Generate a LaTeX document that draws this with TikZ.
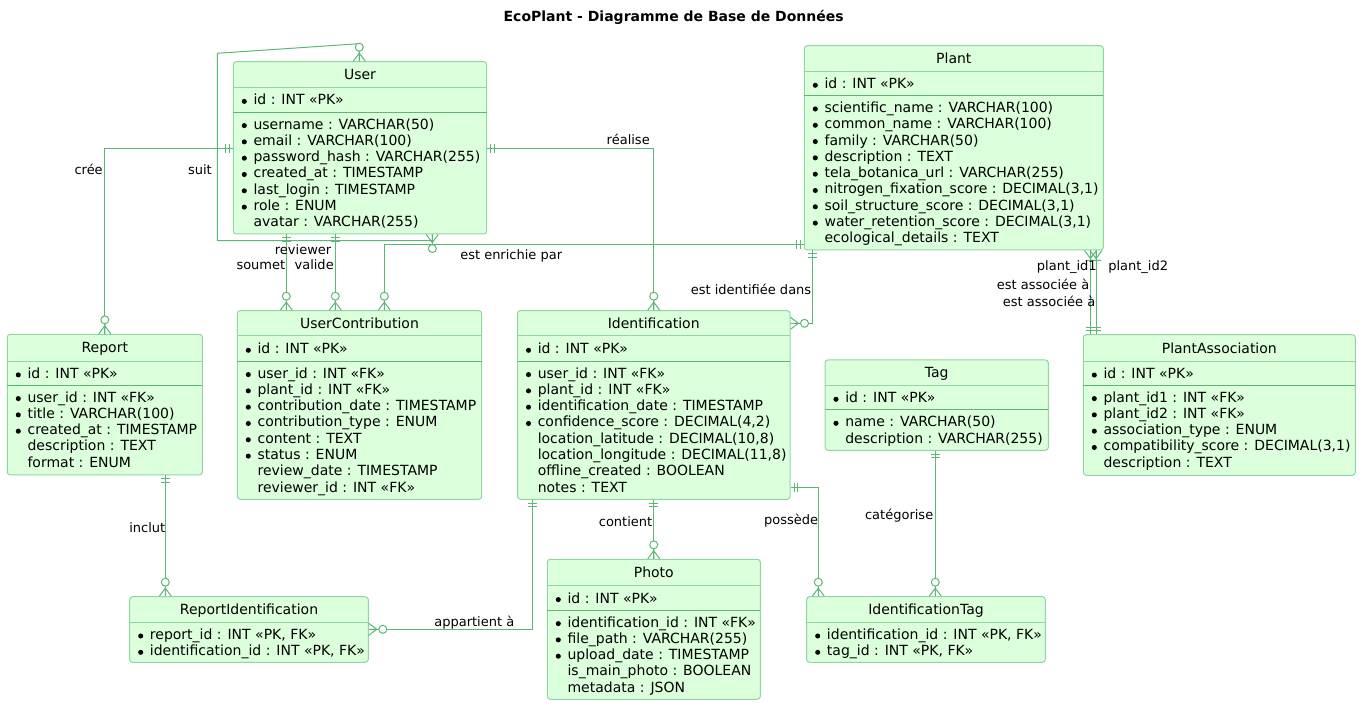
\documentclass[tikz,border=0pt]{standalone}
\usepackage{fontspec}
\setmainfont{DejaVu Sans}
\usetikzlibrary{fit}
\definecolor{efill}{RGB}{220,255,220}
\definecolor{bgreen}{RGB}{143,214,163}
\definecolor{lgreen}{RGB}{91,183,115}
\tikzset{
  conn/.style={draw=lgreen, line width=0.75pt},
  ebox/.style={draw=bgreen, fill=efill, line width=0.75pt, rounded corners=2.2pt, inner sep=0pt},
  hsep/.style={draw=bgreen, line width=0.75pt},
  pkline/.style={draw=lgreen, line width=0.75pt},
  txt/.style={font=\fontsize{10.5pt}{12pt}\selectfont, inner sep=0pt, text height=7.6pt, text depth=0pt},
  lbl/.style={font=\fontsize{9.75pt}{11pt}\selectfont, inner sep=0pt, text height=7.1pt, text depth=0pt},
  pics/oneone/.style={code={\draw[conn] (3.5,-4.5) -- (3.5,4.5) (7,-4.5) -- (7,4.5);}},
  pics/zeromany/.style={code={\draw[conn] (0,-6) -- (8,0) -- (0,6) (0,0) -- (10,0); \draw[conn, fill=white] (14,0) circle (3pt);}},
  pics/onemany/.style={code={\draw[conn] (0,-6) -- (8,0) -- (0,6) (0,0) -- (8,0) (10,-5) -- (10,5);}},
}
\newcommand\entity[7]{%
  \node[ebox, fit={(#2,#3) (#4,#5)}] (#1) {};
  \draw[hsep] (#2,#7) -- (#4,#7);
  \node[txt] (#1-title) at ({(#2+#4)/2},{(#3+#7)/2}) {#6};
}
\newcommand\erows[4]{%
  \foreach [count=\i] \eb/\et in {#4} {%
    \pgfmathsetmacro\yy{#3+(\i-1)*16.3}%
    \node[txt, anchor=west] (#1-\i) at ({#2+20},\yy) {\et};%
    \ifnum\eb=1 \fill ({#2+11},{\yy+1.6}) circle (1.9pt);\fi
  }%
}
\begin{document}
\begin{tikzpicture}[x=0.75pt, y=-0.75pt]
\useasboundingbox (0,0) rectangle (1361,705);
\node[txt, font=\fontsize{10.5pt}{12pt}\selectfont\bfseries] (title) at (673.7,16) {EcoPlant - Diagramme de Base de Données};

% ---------- entities ----------
\entity{user}{233.3}{61.7}{486.7}{234}{User}{87.3}
\draw[pkline] (233.3,112.3) -- (486.7,112.3);
\erows{user-pk}{233.3}{99.8}{1/id : INT «PK»}
\erows{user-a}{233.3}{124}{1/username : VARCHAR(50), 1/email : VARCHAR(100), 1/password\_hash : VARCHAR(255), 1/created\_at : TIMESTAMP, 1/last\_login : TIMESTAMP, 1/role : ENUM, 0/avatar : VARCHAR(255)}

\entity{plant}{804.3}{45.7}{1103.3}{250}{Plant}{71.7}
\draw[pkline] (804.3,95.7) -- (1103.3,95.7);
\erows{plant-pk}{804.3}{83.7}{1/id : INT «PK»}
\erows{plant-a}{804.3}{107.4}{1/scientific\_name : VARCHAR(100), 1/common\_name : VARCHAR(100), 1/family : VARCHAR(50), 1/description : TEXT, 1/tela\_botanica\_url : VARCHAR(255), 1/{nitrogen\_fixation\_score : DECIMAL(3,1)}, 1/{soil\_structure\_score : DECIMAL(3,1)}, 1/{water\_retention\_score : DECIMAL(3,1)}, 0/ecological\_details : TEXT}

\entity{report}{7.3}{334.3}{202.3}{475}{Report}{361.3}
\draw[pkline] (7.3,385.3) -- (202.3,385.3);
\erows{report-pk}{7.3}{373.3}{1/id : INT «PK»}
\erows{report-a}{7.3}{397}{1/user\_id : INT «FK», 1/title : VARCHAR(100), 1/created\_at : TIMESTAMP, 0/description : TEXT, 0/format : ENUM}

\entity{uc}{237.3}{310.7}{481.7}{499.3}{UserContribution}{336}
\draw[pkline] (237.3,361.3) -- (481.7,361.3);
\erows{uc-pk}{237.3}{348.7}{1/id : INT «PK»}
\erows{uc-a}{237.3}{373}{1/user\_id : INT «FK», 1/plant\_id : INT «FK», 1/contribution\_date : TIMESTAMP, 1/contribution\_type : ENUM, 1/content : TEXT, 1/status : ENUM, 0/review\_date : TIMESTAMP, 0/reviewer\_id : INT «FK»}

\entity{ident}{517.5}{310.7}{790}{499.3}{Identification}{336}
\draw[pkline] (517.5,361.3) -- (790,361.3);
\erows{ident-pk}{517.5}{348.7}{1/id : INT «PK»}
\erows{ident-a}{517.5}{373}{1/user\_id : INT «FK», 1/plant\_id : INT «FK», 1/identification\_date : TIMESTAMP, 1/{confidence\_score : DECIMAL(4,2)}, 0/{location\_latitude : DECIMAL(10,8)}, 0/{location\_longitude : DECIMAL(11,8)}, 0/offline\_created : BOOLEAN, 0/notes : TEXT}

\entity{tag}{825}{360}{1048.3}{450.3}{Tag}{385.3}
\draw[pkline] (825,410) -- (1048.3,410);
\erows{tag-pk}{825}{397.7}{1/id : INT «PK»}
\erows{tag-a}{825}{421.7}{1/name : VARCHAR(50), 0/description : VARCHAR(255)}

\entity{pa}{1083.3}{334.7}{1355.3}{475.3}{PlantAssociation}{361.7}
\draw[pkline] (1083.3,385.3) -- (1355.3,385.3);
\erows{pa-pk}{1083.3}{373.5}{1/id : INT «PK»}
\erows{pa-a}{1083.3}{397}{1/plant\_id1 : INT «FK», 1/plant\_id2 : INT «FK», 1/association\_type : ENUM, 1/{compatibility\_score : DECIMAL(3,1)}, 0/description : TEXT}

\entity{ri}{129.7}{596.7}{368.3}{662.3}{ReportIdentification}{622.7}
\erows{ri-a}{129.7}{634.4}{1/{report\_id : INT «PK, FK»}, 1/{identification\_id : INT «PK, FK»}}

\entity{photo}{547.3}{559.3}{760.3}{699.3}{Photo}{585.7}
\draw[pkline] (547.3,610.3) -- (760.3,610.3);
\erows{photo-pk}{547.3}{598}{1/id : INT «PK»}
\erows{photo-a}{547.3}{622}{1/identification\_id : INT «FK», 1/file\_path : VARCHAR(255), 1/upload\_date : TIMESTAMP, 0/is\_main\_photo : BOOLEAN, 0/metadata : JSON}

\entity{it}{806.7}{596.7}{1045.3}{662.3}{IdentificationTag}{622.7}
\erows{it-a}{806.7}{634.4}{1/{identification\_id : INT «PK, FK»}, 1/{tag\_id : INT «PK, FK»}}

% ---------- connectors ----------
% cree
\draw[conn] (user.west |- 0,148.3) -| (report.north);
\pic[rotate=180] at (user.west |- 0,148.3) {oneone};
\pic[rotate=90] at (report.north) {zeromany};
\node[lbl, anchor=east] (l-cree) at (103,169.3) {crée};

% suit (self)
\coordinate (suitA) at (217.3,53.3);
\coordinate (suitB) at (217.3,240.7);
\coordinate (suitC) at (432.3,240.7);
\draw[conn] (user.north -| 359.3,0) -- (359.3,43.7) -- (suitA) -- (suitB) -- (suitC) -- (user.south -| 432.3,0);
\pic[rotate=90] at (user.north -| 359.3,0) {zeromany};
\pic[rotate=270] at (user.south -| 432.3,0) {zeromany};
\node[lbl, anchor=east] (l-suit) at (212,169.3) {suit};

% soumet / valide
\draw[conn] (user.south -| 286.3,0) -- (uc.north -| 286.3,0);
\pic[rotate=270] at (user.south -| 286.3,0) {oneone};
\pic[rotate=90] at (uc.north -| 286.3,0) {zeromany};
\draw[conn] (user.south -| 335.3,0) -- (uc.north -| 335.3,0);
\pic[rotate=270] at (user.south -| 335.3,0) {oneone};
\pic[rotate=90] at (uc.north -| 335.3,0) {zeromany};
\node[lbl, anchor=east] (l-reviewer) at (331.5,249.3) {reviewer};
\node[lbl, anchor=east] (l-soumet) at (285.5,265) {soumet};
\node[lbl, anchor=east] (l-valide) at (334,265) {valide};

% est enrichie par
\draw[conn] (plant.west |- 0,245) -| (uc.north -| 384.3,0);
\pic[rotate=180] at (plant.west |- 0,245) {oneone};
\pic[rotate=90] at (uc.north -| 384.3,0) {zeromany};
\node[lbl, anchor=west] (l-enrichie) at (460,254.3) {est enrichie par};

% realise
\draw[conn] (user.east |- 0,148.3) -| (ident.north);
\pic[rotate=0] at (user.east |- 0,148.3) {oneone};
\pic[rotate=90] at (ident.north) {zeromany};
\node[lbl, anchor=east] (l-realise) at (650,140) {réalise};

% est identifiee dans
\draw[conn] (plant.south -| 812.3,0) |- (ident.east |- 0,323.3);
\pic[rotate=270] at (plant.south -| 812.3,0) {oneone};
\pic[rotate=0] at (ident.east |- 0,323.3) {zeromany};
\node[lbl, anchor=east] (l-identifiee) at (811.5,289.3) {est identifiée dans};

% plant - plantassociation
\draw[conn] (plant.south -| 1090.5,0) -- (pa.north -| 1090.5,0);
\draw[conn] (plant.south -| 1096,0) -- (pa.north -| 1096,0);
\pic[rotate=270] at (plant.south -| 1090.5,0) {onemany};
\pic[rotate=270] at (plant.south -| 1096,0) {onemany};
\pic[rotate=90] at (pa.north -| 1090.5,0) {oneone};
\pic[rotate=90] at (pa.north -| 1096,0) {oneone};
\node[lbl, anchor=east] (l-pid1) at (1097,265.7) {plant\_id1};
\node[lbl, anchor=west] (l-pid2) at (1108,265.7) {plant\_id2};
\node[lbl, anchor=east] (l-assoc1) at (1089.5,284.3) {est associée à};
\node[lbl, anchor=east] (l-assoc2) at (1095.5,301.7) {est associée à};

% inclut
\draw[conn] (report.south -| 165.3,0) -- (ri.north -| 165.3,0);
\pic[rotate=270] at (report.south -| 165.3,0) {oneone};
\pic[rotate=90] at (ri.north -| 165.3,0) {zeromany};
\node[lbl, anchor=east] (l-inclut) at (165.5,527.3) {inclut};

% appartient a
\draw[conn] (ident.south -| 532.3,0) |- (ri.east |- 0,629.3);
\pic[rotate=270] at (ident.south -| 532.3,0) {oneone};
\pic[rotate=0] at (ri.east |- 0,629.3) {zeromany};
\node[lbl, anchor=east] (l-appartient) at (514.5,621.7) {appartient à};

% contient
\draw[conn] (ident.south) -- (ident.south |- photo.north);
\pic[rotate=270] at (ident.south) {oneone};
\pic[rotate=90] at (ident.south |- photo.north) {zeromany};
\node[lbl, anchor=east] (l-contient) at (652.5,521.7) {contient};

% possede
\draw[conn] (ident.east |- 0,487.7) -| (it.north -| 818.3,0);
\pic[rotate=0] at (ident.east |- 0,487.7) {oneone};
\pic[rotate=90] at (it.north -| 818.3,0) {zeromany};
\node[lbl, anchor=east] (l-possede) at (818.5,520) {possède};

% categorise
\draw[conn] (tag.south -| 935.3,0) -- (it.north -| 935.3,0);
\pic[rotate=270] at (tag.south -| 935.3,0) {oneone};
\pic[rotate=90] at (it.north -| 935.3,0) {zeromany};
\node[lbl, anchor=east] (l-categorise) at (933.5,514.3) {catégorise};
\end{tikzpicture}
\end{document}
